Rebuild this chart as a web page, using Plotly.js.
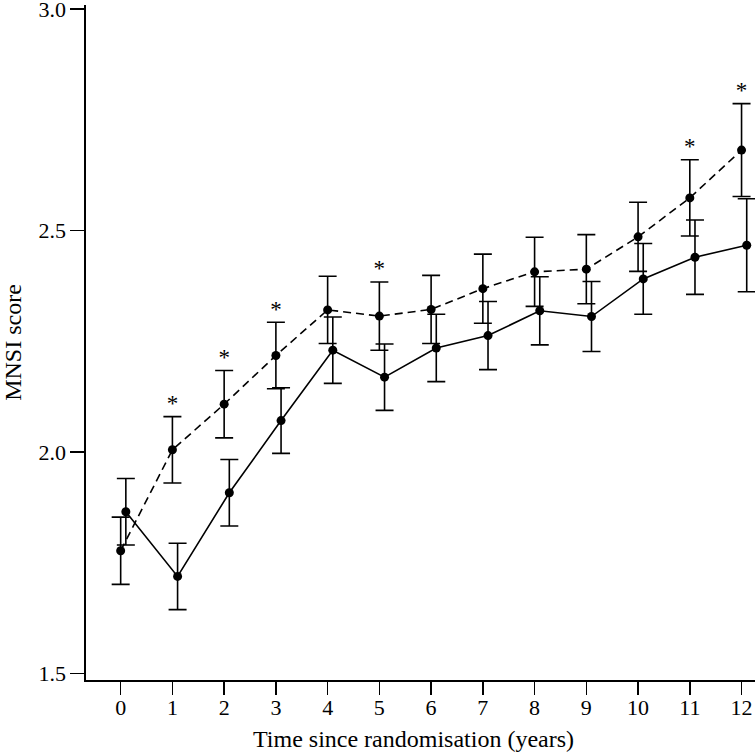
<!DOCTYPE html>
<html>
<head>
<meta charset="utf-8">
<script src="https://cdn.plot.ly/plotly-3.0.1.min.js"></script>
<style>html,body{margin:0;padding:0;background:#fff;}#chart{width:755px;height:754px;}</style>
</head>
<body>
<div id="chart"></div>
<script>
// Data
const years = [0, 1, 2, 3, 4, 5, 6, 7, 8, 9, 10, 11, 12];
const dashedMean = [1.777, 2.005, 2.108, 2.218, 2.321, 2.307, 2.322, 2.369, 2.407, 2.413, 2.486, 2.574, 2.682];
const dashedErr  = [0.076, 0.075, 0.076, 0.075, 0.076, 0.077, 0.077, 0.078, 0.078, 0.078, 0.078, 0.086, 0.105];
const solidMean  = [1.865, 1.719, 1.908, 2.071, 2.230, 2.169, 2.235, 2.263, 2.319, 2.306, 2.391, 2.440, 2.467];
const solidErr   = [0.075, 0.075, 0.075, 0.074, 0.075, 0.075, 0.076, 0.077, 0.077, 0.079, 0.080, 0.084, 0.105];
const sigYears = [1, 2, 3, 5, 11, 12];
const yTickVals = [1.5, 2.0, 2.5, 3.0];
const yTickText = ['1.5', '2.0', '2.5', '3.0'];
const xTitle = 'Time since randomisation (years)';
const yTitle = 'MNSI score';

const solidOffset = 0.1;
const FONT = 'Liberation Serif, Times New Roman, serif';

const errStyle = {type: 'data', visible: true, color: '#000', thickness: 1.6, width: 9};

const dashedTrace = {
  x: years, y: dashedMean, type: 'scatter', mode: 'lines+markers',
  line: {color: '#000', width: 1.6, dash: '8px,5px'},
  marker: {color: '#000', size: 9},
  error_y: Object.assign({array: dashedErr}, errStyle),
  hoverinfo: 'skip'
};
const solidTrace = {
  x: years.map(t => t + solidOffset), y: solidMean, type: 'scatter', mode: 'lines+markers',
  line: {color: '#000', width: 1.6},
  marker: {color: '#000', size: 9},
  error_y: Object.assign({array: solidErr}, errStyle),
  hoverinfo: 'skip'
};
const starTrace = {
  x: sigYears,
  y: sigYears.map(t => dashedMean[years.indexOf(t)] + dashedErr[years.indexOf(t)]),
  type: 'scatter', mode: 'text', text: sigYears.map(() => '*'),
  textposition: 'top center',
  textfont: {family: FONT, size: 23, color: '#000'},
  hoverinfo: 'skip'
};

const axisCommon = {
  showline: true, linecolor: '#000', linewidth: 1.6,
  ticks: 'outside', tickcolor: '#000', tickwidth: 1.6,
  showgrid: false, zeroline: false,
  ticklabeloverflow: 'allow',
  tickfont: {family: FONT, size: 22, color: '#000'}
};

const layout = {
  width: 755, height: 754,
  margin: {l: 86, r: 0, t: 5, b: 74, pad: 0},
  paper_bgcolor: '#fff', plot_bgcolor: '#fff',
  showlegend: false,
  font: {family: FONT, color: '#000'},
  xaxis: Object.assign({}, axisCommon, {
    range: [-0.67, 12.26], tickvals: years, ticklen: 13, ticklabelstandoff: -6
  }),
  yaxis: Object.assign({}, axisCommon, {
    range: [1.485, 3.0097], tickvals: yTickVals, ticktext: yTickText, ticklen: 14,
    title: {text: yTitle, font: {family: FONT, size: 24, color: '#000'}, standoff: 10}
  }),
  annotations: [{
    text: xTitle, xref: 'paper', yref: 'paper', x: 0.49, y: 0,
    xanchor: 'center', yanchor: 'middle', yshift: -59, showarrow: false,
    font: {family: FONT, size: 24, color: '#000'}
  }]
};

Plotly.newPlot('chart', [dashedTrace, solidTrace, starTrace], layout, {displayModeBar: false, staticPlot: true});
</script>
</body>
</html>
